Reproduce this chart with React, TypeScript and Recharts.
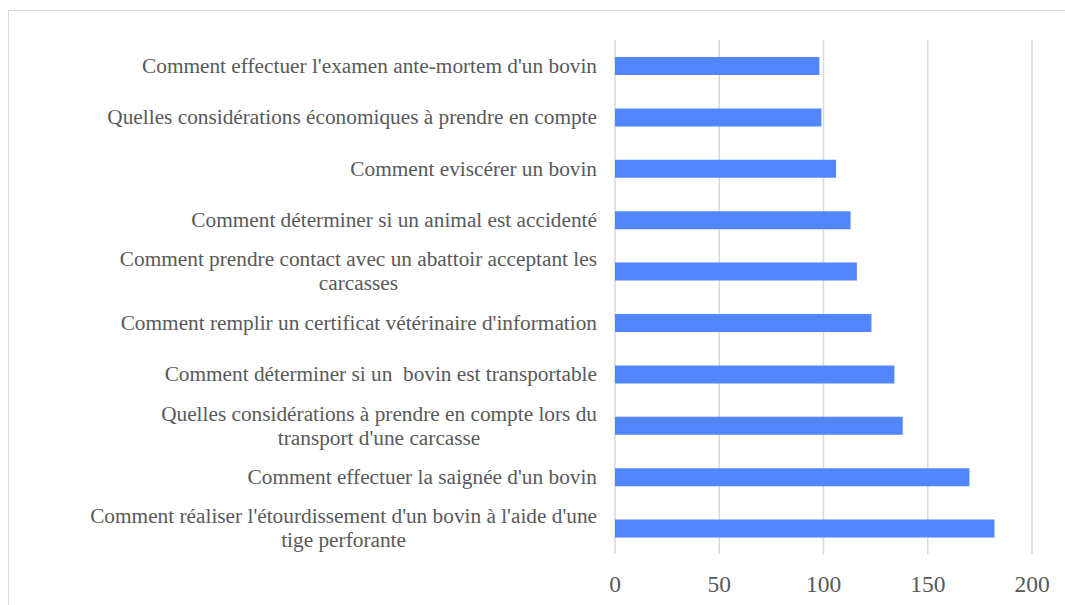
import { Bar, BarChart, CartesianGrid, XAxis, YAxis } from 'recharts'

const categories = [
  "Comment effectuer l'examen ante-mortem d'un bovin",
  'Quelles considérations économiques à prendre en compte',
  'Comment eviscérer un bovin',
  'Comment déterminer si un animal est accidenté',
  'Comment prendre contact avec un abattoir acceptant les\ncarcasses',
  "Comment remplir un certificat vétérinaire d'information",
  'Comment déterminer si un  bovin est transportable',
  "Quelles considérations à prendre en compte lors du\ntransport d'une carcasse",
  "Comment effectuer la saignée d'un bovin",
  "Comment réaliser l'étourdissement d'un bovin à l'aide d'une\ntige perforante",
]
const counts = [98, 99, 106, 113, 116, 123, 134, 138, 170, 182]
const xTicks = [0, 50, 100, 150, 200]

const data = categories.map((name, i) => ({ name, value: counts[i] }))

const TEXT = '#595959'
const GRID = '#d9d9d9'
const FONT = "'Liberation Serif', 'Times New Roman', serif"
const LABEL_SIZE = 21.3
const LINE_H = 24

let ctx: CanvasRenderingContext2D | null = null
function measure(s: string) {
  if (!ctx) ctx = document.createElement('canvas').getContext('2d')
  if (!ctx) return s.length * LABEL_SIZE * 0.45
  ctx.font = `${LABEL_SIZE}px ${FONT}`
  return ctx.measureText(s).width
}

// right-aligned single lines, wrapped labels centred under their widest line (Excel style)
function CategoryTick({ x, y, payload }: any) {
  const lines = String(payload.value).split('\n')
  const widest = Math.max(...lines.map(measure))
  const first = y - ((lines.length - 1) * LINE_H) / 2
  return (
    <g>
      {lines.map((ln, i) => (
        <text key={i} x={lines.length > 1 ? x - widest / 2 : x} y={first + i * LINE_H} dy="0.33em"
              textAnchor={lines.length > 1 ? 'middle' : 'end'} style={{ whiteSpace: 'pre' }}
              fill={TEXT} fontSize={LABEL_SIZE} fontFamily={FONT}>
          {ln}
        </text>
      ))}
    </g>
  )
}

export default function App() {
  return (
    <div style={{
      position: 'absolute', left: 8, top: 10, width: 1056, height: 594,
      borderTop: `1px solid ${GRID}`, borderLeft: `1px solid ${GRID}`, background: '#fff',
    }}>
      <BarChart width={1056} height={594} data={data} layout="vertical" barSize={18}
                margin={{ top: 29, right: 33, left: 0, bottom: 0 }}>
        <CartesianGrid stroke={GRID} strokeWidth={1.5} horizontal={false} vertical />
        <XAxis type="number" domain={[0, 200]} ticks={xTicks} interval={0} height={51}
               axisLine={false} tickLine={false} tickSize={0} tickMargin={21}
               tick={{ fill: TEXT, fontSize: 23.5, fontFamily: FONT }} />
        <YAxis type="category" dataKey="name" width={606} axisLine={false} tickLine={false}
               tickSize={0} tickMargin={18} interval={0} tick={<CategoryTick />} />
        <Bar dataKey="value" fill="#5286ff" isAnimationActive={false} />
      </BarChart>
    </div>
  )
}
